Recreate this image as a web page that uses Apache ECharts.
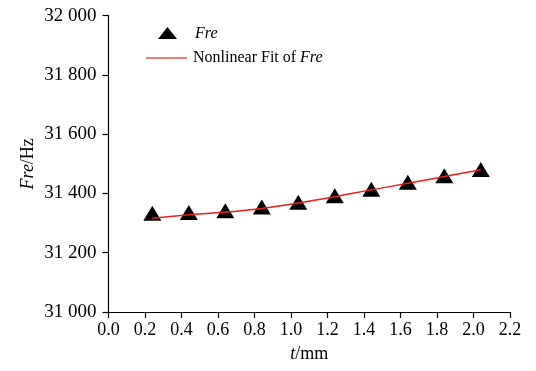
<!DOCTYPE html>
<html>
<head>
<meta charset="utf-8">
<script src="https://cdn.jsdelivr.net/npm/echarts@6/dist/echarts.min.js"></script>
<style>
html,body{margin:0;padding:0;background:#fff;}
#c{width:536px;height:371px;}
</style>
</head>
<body>
<div id="c"></div>
<script>
var thickness = [0.24, 0.44, 0.64, 0.84, 1.04, 1.24, 1.44, 1.64, 1.84, 2.04];
var freValues = [31333, 31336, 31342, 31354, 31370, 31392, 31414, 31438, 31460, 31481];
var fitValues = [31316, 31328, 31337, 31349, 31368, 31389, 31412, 31434, 31457, 31480];
var xTicks = [0.0, 0.2, 0.4, 0.6, 0.8, 1.0, 1.2, 1.4, 1.6, 1.8, 2.0, 2.2];
var yTicks = [31000, 31200, 31400, 31600, 31800, 32000];

var FONT = 'Liberation Serif';
var chart = echarts.init(document.getElementById('c'), null, {renderer: 'canvas'});

function pairs(xs, ys) {
  return xs.map(function (x, i) { return [x, ys[i]]; });
}
function fmtThousands(v) {
  var s = String(Math.round(v));
  return s.slice(0, s.length - 3) + ' ' + s.slice(s.length - 3);
}

var option = {
  backgroundColor: '#ffffff',
  animation: false,
  grid: {left: 108.5, right: 26, top: 15.6, bottom: 59, containLabel: false},
  legend: [
    {
      left: 153, top: 21,
      orient: 'vertical',
      itemWidth: 19, itemHeight: 12,
      data: [{name: 'Fre', icon: 'triangle', itemStyle: {color: '#000', opacity: 1}}],
      formatter: function () { return '{i|Fre}'; },
      textStyle: {
        fontFamily: FONT, fontSize: 16, color: '#000', padding: [2, 0, 0, 13],
        rich: {i: {fontFamily: FONT, fontSize: 16, fontStyle: 'italic', color: '#000'}}
      }
    },
    {
      left: 141, top: 45,
      orient: 'vertical',
      itemWidth: 41, itemHeight: 1.5,
      data: [{name: 'Nonlinear Fit of Fre', icon: 'rect', itemStyle: {color: '#f0504a'}}],
      formatter: function () { return 'Nonlinear Fit of {i|Fre}'; },
      textStyle: {
        fontFamily: FONT, fontSize: 16, color: '#000', padding: [0, 0, 0, 1],
        rich: {i: {fontFamily: FONT, fontSize: 16, fontStyle: 'italic', color: '#000'}}
      }
    }
  ],
  xAxis: {
    type: 'value',
    min: xTicks[0], max: xTicks[xTicks.length - 1], interval: 0.2,
    name: '{i|t}/mm',
    nameLocation: 'middle',
    nameGap: 33,
    nameTextStyle: {
      fontFamily: FONT, fontSize: 18, color: '#000',
      rich: {i: {fontFamily: FONT, fontSize: 18, fontStyle: 'italic', color: '#000'}}
    },
    axisLine: {show: true, onZero: false, lineStyle: {color: '#000', width: 1.2}},
    axisTick: {show: true, inside: false, length: 6, lineStyle: {color: '#000', width: 1.2}},
    axisLabel: {
      margin: 9, fontFamily: FONT, fontSize: 18, color: '#000',
      formatter: function (v) { return v.toFixed(1); }
    },
    splitLine: {show: false}
  },
  yAxis: {
    type: 'value',
    min: yTicks[0], max: yTicks[yTicks.length - 1], interval: 200,
    name: '{i|Fre}/Hz',
    nameLocation: 'middle',
    nameGap: 71,
    nameMoveOverlap: false,
    nameRotate: 90,
    nameTextStyle: {
      fontFamily: FONT, fontSize: 18, color: '#000',
      rich: {i: {fontFamily: FONT, fontSize: 18, fontStyle: 'italic', color: '#000'}}
    },
    axisLine: {show: true, onZero: false, lineStyle: {color: '#000', width: 1.2}},
    axisTick: {show: true, inside: false, length: 6, lineStyle: {color: '#000', width: 1.2}},
    axisLabel: {
      margin: 12, fontFamily: FONT, fontSize: 19, color: '#000',
      formatter: fmtThousands
    },
    splitLine: {show: false}
  },
  series: [
    {
      name: 'Nonlinear Fit of Fre',
      type: 'line',
      data: pairs(thickness, fitValues),
      smooth: true,
      showSymbol: false,
      symbol: 'none',
      color: '#ee1c1c',
      lineStyle: {color: '#ee1c1c', width: 1.5},
      z: 3
    },
    {
      name: 'Fre',
      type: 'scatter',
      data: pairs(thickness, freValues),
      symbol: 'triangle',
      symbolSize: [18, 15],
      itemStyle: {color: '#000', opacity: 1},
      z: 2
    }
  ]
};
chart.setOption(option);
</script>
</body>
</html>
